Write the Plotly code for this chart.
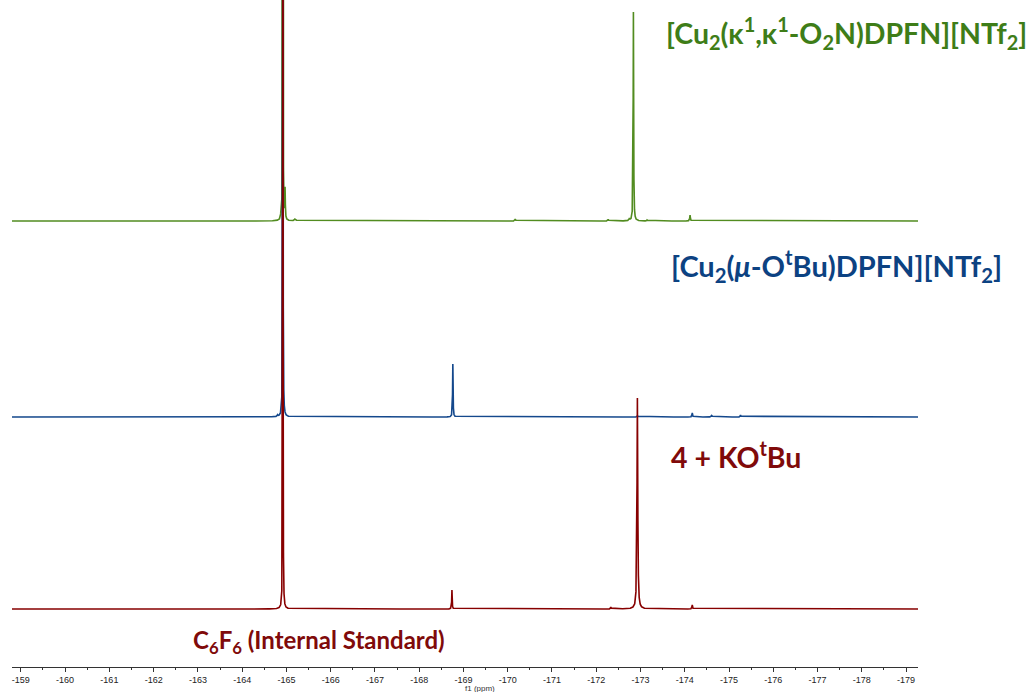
import numpy as np
import plotly.graph_objects as go

# 19F NMR chemical-shift axis (ppm)
tick_ppm = list(range(-159, -180, -1))
tick_text = [str(v) for v in tick_ppm]

# Peak tables for each spectrum: shift (ppm), height above its baseline, half width (ppm)
green_shift = [-164.88, -164.92, -164.97, -165.20, -170.17, -172.27, -172.75, -172.84, -173.15, -174.12]
green_height = [6, 2000, 30, 2, 2, 1.7, 2, 209, 1, 6]
green_hwhm = [0.010, 0.0023, 0.006, 0.020, 0.010, 0.010, 0.010, 0.006, 0.010, 0.008]

blue_shift = [-164.80, -164.92, -168.76, -172.93, -174.17, -174.61, -175.26]
blue_height = [1.5, 1000, 53, 1.5, 4, 1.5, 2]
blue_hwhm = [0.010, 0.0035, 0.006, 0.008, 0.008, 0.015, 0.008]

red_shift = [-164.92, -168.74, -172.33, -172.93, -174.17]
red_height = [2000, 19, 2, 211, 4]
red_hwhm = [0.0023, 0.006, 0.008, 0.0098, 0.008]

# vertical stacking of the three traces (plot units = px above the axis line)
OFFSETS = {"green": 446, "blue": 250, "red": 58}
LINE = {"green": "rgb(82,140,32)", "blue": "rgb(20,72,140)", "red": "rgb(135,0,0)"}
TEXT = {"green": "rgb(62,125,24)", "blue": "rgb(12,66,130)", "red": "rgb(128,10,10)"}

X_LEFT, X_RIGHT = -158.80, -179.27


def shift_grid(centres):
    pts = [np.arange(X_RIGHT - 0.05, X_LEFT + 0.05, 0.01)]
    for c in centres:
        pts.append(c + np.arange(-0.3, 0.3, 0.002))
        pts.append(c + np.arange(-0.05, 0.05, 0.0005))
        pts.append(np.array([c]))
    return np.unique(np.round(np.concatenate(pts), 5))


def spectrum(shifts, heights, hwhm):
    x = shift_grid(shifts)
    y = np.zeros_like(x)
    for c, h, g in zip(shifts, heights, hwhm):
        y += h * g**2 / ((x - c) ** 2 + g**2)
    return x, y


fig = go.Figure()
for name, (s, h, w) in {
    "green": (green_shift, green_height, green_hwhm),
    "blue": (blue_shift, blue_height, blue_hwhm),
    "red": (red_shift, red_height, red_hwhm),
}.items():
    x, y = spectrum(s, h, w)
    fig.add_trace(go.Scatter(
        x=x, y=np.round(y + OFFSETS[name], 3), mode="lines",
        line=dict(color=LINE[name], width=1.6), showlegend=False, hoverinfo="skip",
    ))

# plot area geometry in px
L, R, T, B = 12, 918, 0, 667
W, H = 1027, 692


def px(xp, yp):
    return (xp - L) / (R - L), (B - yp) / (B - T)


labels = [
    ("[Cu<sub>2</sub>(κ<sup>1</sup>,κ<sup>1</sup>-O<sub>2</sub>N)DPFN][NTf<sub>2</sub>]", 846, 33, "green", 28.5),
    ("[Cu<sub>2</sub>(<i>μ</i>-O<sup>t</sup>Bu)DPFN][NTf<sub>2</sub>]", 836, 266, "blue", 29),
    ("4 + KO<sup>t</sup>Bu", 736, 455, "red", 28.5),
    ("C<sub>6</sub>F<sub>6</sub> (Internal Standard)", 319, 641, "red", 24),
]
for text, xp, yp, col, size in labels:
    ax_, ay_ = px(xp, yp)
    fig.add_annotation(
        text=text, x=ax_, y=ay_, xref="paper", yref="paper",
        xanchor="center", yanchor="middle", showarrow=False,
        font=dict(family="Lato", size=size, color=TEXT[col], weight="bold"),
    )

tx, ty = px(480, 688)
fig.add_annotation(
    text="f1 (ppm)", x=tx, y=ty, xref="paper", yref="paper",
    xanchor="center", yanchor="middle", showarrow=False,
    font=dict(family="Liberation Sans", size=8, color="#333333"),
)

fig.update_layout(
    width=W, height=H,
    margin=dict(l=L, r=W - R, t=T, b=H - B, pad=0),
    paper_bgcolor="white", plot_bgcolor="white",
    xaxis=dict(
        range=[X_LEFT, X_RIGHT], showgrid=False, zeroline=False,
        showline=True, linecolor="#333333", linewidth=1,
        tickmode="array", tickvals=tick_ppm, ticktext=tick_text,
        ticks="outside", ticklen=4, tickwidth=1, tickcolor="#333333",
        tickfont=dict(family="Liberation Sans", size=9, color="#222222"),
        minor=dict(tickmode="linear", tick0=-159.5, dtick=1, ticks="outside",
                   ticklen=2, tickcolor="#333333", showgrid=False),
        fixedrange=True,
    ),
    yaxis=dict(range=[0, B - T], visible=False, fixedrange=True),
)

fig.write_html("out.html")
